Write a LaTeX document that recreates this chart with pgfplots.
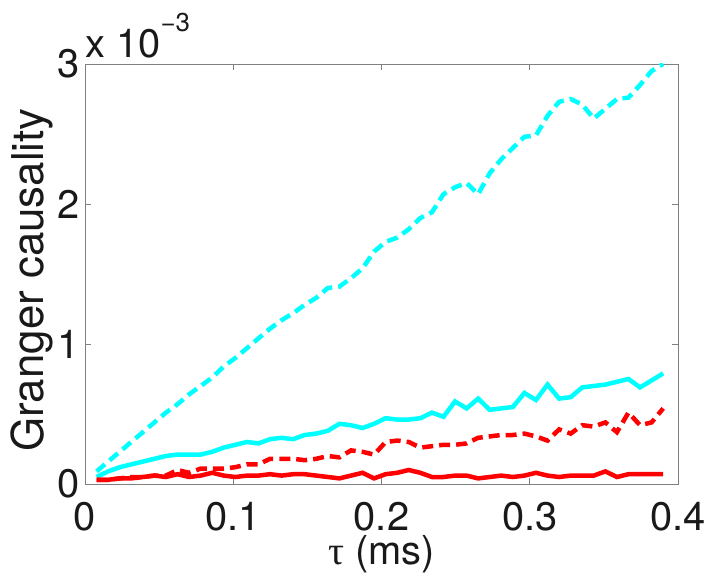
\documentclass[border=0pt]{standalone}
\usepackage{fontspec}
\setmainfont{TeX Gyre Heros}
\newfontfamily\greekserif{Liberation Serif}
\usepackage{pgfplots}
\usepackage{pgfplotstable}
\pgfplotsset{compat=1.18}
\definecolor{mcyan}{rgb}{0,1,1}
\definecolor{mred}{rgb}{1,0,0}
\pgfplotstableread{
x cd cs rd rs
0.0078 0.09 0.05 0.03 0.03
0.0156 0.16 0.09 0.03 0.03
0.0234 0.23 0.12 0.04 0.04
0.0312 0.30 0.14 0.05 0.04
0.0390 0.37 0.16 0.05 0.05
0.0468 0.44 0.18 0.06 0.06
0.0546 0.51 0.20 0.06 0.05
0.0624 0.57 0.21 0.10 0.07
0.0702 0.64 0.21 0.08 0.05
0.0780 0.70 0.21 0.11 0.06
0.0858 0.76 0.23 0.11 0.08
0.0936 0.84 0.26 0.11 0.06
0.1014 0.90 0.28 0.12 0.05
0.1092 0.97 0.30 0.14 0.06
0.1170 1.04 0.29 0.14 0.06
0.1248 1.11 0.32 0.18 0.07
0.1326 1.17 0.33 0.18 0.06
0.1404 1.22 0.32 0.18 0.07
0.1482 1.28 0.35 0.17 0.07
0.1560 1.33 0.36 0.18 0.06
0.1638 1.40 0.38 0.20 0.05
0.1716 1.41 0.43 0.19 0.04
0.1794 1.47 0.42 0.24 0.06
0.1872 1.54 0.40 0.23 0.08
0.1950 1.66 0.43 0.21 0.04
0.2028 1.73 0.47 0.30 0.07
0.2106 1.76 0.46 0.31 0.08
0.2184 1.82 0.46 0.30 0.10
0.2262 1.90 0.47 0.26 0.08
0.2340 1.94 0.51 0.27 0.05
0.2418 2.07 0.48 0.28 0.05
0.2496 2.12 0.59 0.28 0.06
0.2574 2.15 0.54 0.29 0.06
0.2652 2.07 0.61 0.33 0.04
0.2730 2.22 0.53 0.34 0.05
0.2808 2.32 0.54 0.35 0.06
0.2886 2.40 0.55 0.35 0.05
0.2964 2.48 0.65 0.36 0.06
0.3042 2.49 0.60 0.34 0.08
0.3120 2.63 0.71 0.31 0.06
0.3198 2.73 0.61 0.39 0.05
0.3276 2.75 0.62 0.36 0.06
0.3354 2.71 0.69 0.42 0.06
0.3432 2.61 0.70 0.41 0.06
0.3510 2.68 0.71 0.44 0.09
0.3588 2.75 0.73 0.37 0.05
0.3666 2.76 0.75 0.51 0.07
0.3744 2.85 0.69 0.42 0.07
0.3822 2.95 0.74 0.44 0.07
0.3900 3.00 0.79 0.54 0.07
}\gcdata
\begin{document}
\begin{tikzpicture}
\begin{axis}[
  width=593bp, height=420bp, scale only axis,
  xmin=0, xmax=0.4, ymin=0, ymax=3,
  xtick={0,0.1,0.2,0.3,0.4}, xticklabels={0,0.1,0.2,0.3,0.4},
  ytick={0,1,2,3}, yticklabels={0,1,2,3},
  tick align=inside, major tick length=6bp,
  axis line style={black!50, line width=0.8bp},
  tick style={black!50, line width=0.8bp},
  tick label style={font=\fontsize{40}{40}\selectfont, inner sep=0pt, text=black!90},
  xticklabel style={yshift=-18bp},
  yticklabel style={xshift=-5bp},
  xlabel={{\greekserif τ} (ms)},
  ylabel={Granger causality},
  xlabel style={font=\fontsize{40}{40}\selectfont, at={(axis description cs:0.5,0)}, anchor=base, yshift=-80bp, inner sep=0pt, text=black!90},
  ylabel style={font=\fontsize{44}{44}\selectfont, at={(axis description cs:0,0.5)}, anchor=base, yshift=41bp, xshift=-6bp, inner sep=0pt, text=black!90},
  clip=true,
]
\addplot[mcyan, line width=4.5bp, dash pattern=on 11bp off 6bp] table[x=x,y=cd]{\gcdata};
\addplot[mcyan, line width=4.5bp] table[x=x,y=cs]{\gcdata};
\addplot[mred, line width=4.5bp, dash pattern=on 11bp off 6bp] table[x=x,y=rd]{\gcdata};
\addplot[mred, line width=4.5bp] table[x=x,y=rs]{\gcdata};
\coordinate (sw) at (rel axis cs:0,0);
\coordinate (ne) at (rel axis cs:1,1);
\coordinate (nw) at (rel axis cs:0,1);
\end{axis}
\node[anchor=base west, inner sep=0pt, font=\fontsize{40}{40}\selectfont, text=black!90] at ([yshift=6bp]nw) {x 10\raisebox{26bp}{\fontsize{26}{26}\selectfont −3}};
\pgfresetboundingbox
\path ([shift={(-85bp,-94bp)}]sw) rectangle ([shift={(33bp,64bp)}]ne);
\end{tikzpicture}
\end{document}
